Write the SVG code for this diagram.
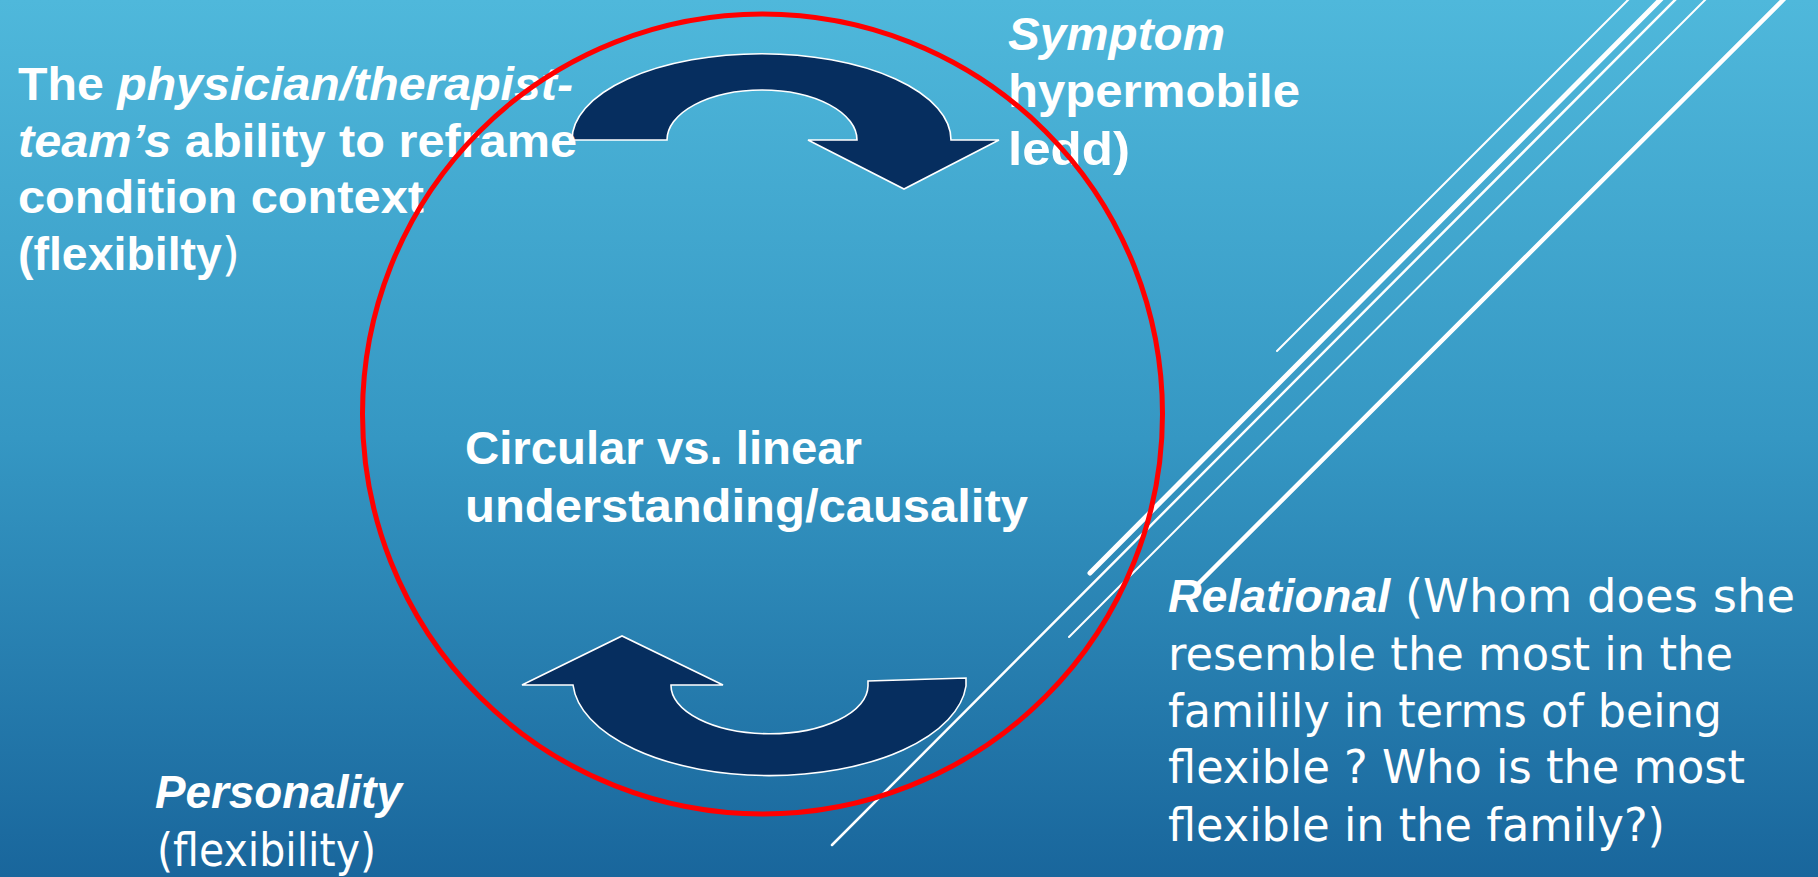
<svg xmlns="http://www.w3.org/2000/svg" width="1818" height="877" viewBox="0 0 1818 877">
  <defs>
    <linearGradient id="bg" x1="0" y1="0" x2="0" y2="1">
      <stop offset="0" stop-color="#4FB8DB"/>
      <stop offset="0.5" stop-color="#3597C3"/>
      <stop offset="1" stop-color="#19669C"/>
    </linearGradient>
  </defs>
  <style>
    .deco line { stroke: #FFFFFF; stroke-linecap: round; fill: none; }
    .arrow { fill: #062E5F; stroke: #FFFFFF; stroke-width: 1.6; stroke-linejoin: miter; }
    .t { fill: #FFFFFF; font-size: 46px; }
    .b { font-family: "Liberation Sans", Arial, sans-serif; font-weight: bold; }
    .bi { font-family: "Liberation Sans", Arial, sans-serif; font-weight: bold; font-style: italic; }
    .r { font-family: "DejaVu Sans", "Liberation Sans", sans-serif; font-weight: normal; }
    .ring { fill: none; stroke: #FF0000; stroke-width: 5; }
  </style>

  <rect x="0" y="0" width="1818" height="877" fill="url(#bg)"/>

  <g id="decoration" class="deco">
    <line x1="1629" y1="-1" x2="1277" y2="351" stroke-width="2"/>
    <line x1="1661" y1="-1" x2="1090" y2="573" stroke-width="5"/>
    <line x1="1676" y1="-1" x2="832" y2="845" stroke-width="2.5"/>
    <line x1="1706" y1="-1" x2="1069" y2="637" stroke-width="2"/>
    <line x1="1784" y1="-1" x2="1199" y2="583" stroke-width="4.5"/>
  </g>

  <g id="connectors">
    <path id="arrow-top" class="arrow" d="M 572,140 A 189,86 0 0 1 951,140 L 999,140 L 904,189 L 808,140 L 857,140 A 95,50 0 0 0 667,140 Z"/>
    <path id="arrow-bottom" class="arrow" d="M 522,685 L 622,636 L 723,685 L 671,685 A 98,48 0 0 0 868,686 L 868,681 L 966,678 L 966,686 A 197,97 0 0 1 573,685 Z"/>
  </g>

  <g id="node-team">
    <text class="t" x="18" y="100" textLength="555" lengthAdjust="spacingAndGlyphs"><tspan class="b">The </tspan><tspan class="bi">physician/therapist-</tspan></text>
    <text class="t" x="18" y="157" textLength="559" lengthAdjust="spacingAndGlyphs"><tspan class="bi">team’s</tspan><tspan class="b"> ability to reframe</tspan></text>
    <text class="t b" x="18" y="213" textLength="406" lengthAdjust="spacingAndGlyphs">condition context</text>
    <text class="t" x="18" y="270" textLength="222" lengthAdjust="spacingAndGlyphs"><tspan class="b">(flexibilty</tspan><tspan class="r">)</tspan></text>
  </g>

  <g id="node-symptom">
    <text class="t bi" x="1008" y="50" textLength="217" lengthAdjust="spacingAndGlyphs">Symptom</text>
    <text class="t b" x="1008" y="107" textLength="292" lengthAdjust="spacingAndGlyphs">hypermobile</text>
    <text class="t b" x="1008" y="165" textLength="122" lengthAdjust="spacingAndGlyphs">ledd)</text>
  </g>

  <g id="node-center">
    <text class="t b" x="465" y="464" textLength="397" lengthAdjust="spacingAndGlyphs">Circular vs. linear</text>
    <text class="t b" x="465" y="522" textLength="563" lengthAdjust="spacingAndGlyphs">understanding/causality</text>
  </g>

  <g id="node-relational">
    <text class="t" x="1168" y="612" textLength="627" lengthAdjust="spacingAndGlyphs"><tspan class="bi">Relational</tspan><tspan class="r"> (Whom does she</tspan></text>
    <text class="t r" x="1168" y="670" textLength="565" lengthAdjust="spacingAndGlyphs">resemble the most in the</text>
    <text class="t r" x="1168" y="727" textLength="554" lengthAdjust="spacingAndGlyphs">familily in terms of being</text>
    <text class="t r" x="1168" y="783" textLength="577" lengthAdjust="spacingAndGlyphs">flexible ? Who is the most</text>
    <text class="t r" x="1168" y="841" textLength="497" lengthAdjust="spacingAndGlyphs">flexible in the family?)</text>
  </g>

  <g id="node-personality">
    <text class="t bi" x="155" y="808" textLength="247" lengthAdjust="spacingAndGlyphs">Personality</text>
    <text class="t r" x="157" y="866" textLength="219" lengthAdjust="spacingAndGlyphs">(flexibility)</text>
  </g>

  <g id="cycle">
    <circle class="ring" cx="762.5" cy="414" r="400"/>
  </g>
</svg>
